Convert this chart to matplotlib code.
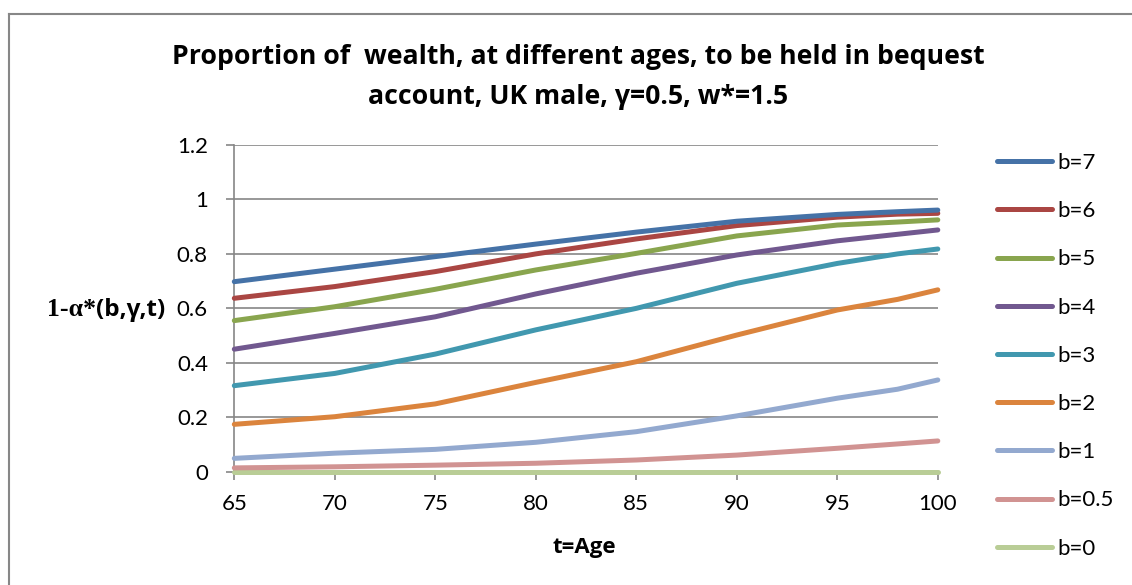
import matplotlib
matplotlib.use("Agg")
import matplotlib.pyplot as plt
from matplotlib.lines import Line2D

# ages (t) and proportion 1-alpha*(b,gamma,t)
ages = [65, 70, 75, 80, 85, 90, 95, 98, 100]
b7 = [0.698, 0.744, 0.790, 0.836, 0.880, 0.920, 0.945, 0.955, 0.961]
b6 = [0.637, 0.680, 0.735, 0.800, 0.855, 0.904, 0.935, 0.946, 0.949]
b5 = [0.555, 0.606, 0.670, 0.741, 0.802, 0.866, 0.906, 0.917, 0.925]
b4 = [0.450, 0.508, 0.569, 0.653, 0.729, 0.796, 0.848, 0.872, 0.888]
b3 = [0.316, 0.361, 0.432, 0.521, 0.600, 0.692, 0.765, 0.800, 0.818]
b2 = [0.174, 0.202, 0.249, 0.328, 0.404, 0.502, 0.594, 0.633, 0.668]
b1 = [0.049, 0.068, 0.082, 0.108, 0.147, 0.205, 0.270, 0.303, 0.337]
b05 = [0.014, 0.018, 0.024, 0.031, 0.043, 0.061, 0.086, 0.102, 0.113]
b0 = [0.0, 0.0, 0.0, 0.0, 0.0, 0.0, 0.0, 0.0, 0.0]

labels = ["b=7", "b=6", "b=5", "b=4", "b=3", "b=2", "b=1", "b=0.5", "b=0"]
series = [b7, b6, b5, b4, b3, b2, b1, b05, b0]
colors = ["#4572A7", "#AA4643", "#89A54E", "#71588F", "#4198AF",
          "#DB843D", "#93A9CF", "#D19392", "#B9CD96"]

plt.rcParams["font.family"] = ["Lato", "DejaVu Sans"]

W, H = 1132, 585
fig = plt.figure(figsize=(W / 100, H / 100), dpi=100)
ax = fig.add_axes([234.3 / W, 1 - 471.7 / H, (937.8 - 234.3) / W, (471.7 - 145) / H])

# outer chart frame (only left and top edges visible)
fig.add_artist(Line2D([9 / W, 9 / W], [0, 1 - 13.5 / H], transform=fig.transFigure,
                      color="#878787", lw=1.5))
fig.add_artist(Line2D([9 / W, 1], [1 - 13.5 / H, 1 - 13.5 / H], transform=fig.transFigure,
                      color="#878787", lw=1.5))

# draw bottom series first so top ones overlay
for lab, vals, col in reversed(list(zip(labels, series, colors))):
    ax.plot(ages, vals, color=col, lw=3.6, solid_capstyle="round", label=lab,
            zorder=3, clip_on=False)

ax.set_xlim(65, 100)
ax.set_ylim(0, 1.2)
ax.set_xticks([65, 70, 75, 80, 85, 90, 95, 100])
ax.set_yticks([0, 0.2, 0.4, 0.6, 0.8, 1.0, 1.2])
ax.set_yticklabels([f"{v:g}" for v in ax.get_yticks()])
ax.yaxis.grid(True, color="#868686", lw=1.2)
ax.set_axisbelow(True)
for s in ["top", "right"]:
    ax.spines[s].set_visible(False)
for s in ["left", "bottom"]:
    ax.spines[s].set_color("#868686")
    ax.spines[s].set_linewidth(1.2)
ax.tick_params(axis="both", colors="#868686", labelcolor="black", labelsize=16,
               length=6, width=1.2)
ax.tick_params(axis="y", pad=13)
ax.tick_params(axis="x", pad=10)

fig.text(578 / W, 1 - 77 / H,
         "Proportion of  wealth, at different ages, to be held in bequest\naccount, UK male, \u03b3=0.5, w*=1.5",
         ha="center", va="center", fontsize=19.2, fontweight="bold",
         family="Open Sans", linespacing=1.7)

fig.text(584 / W, 1 - 548 / H, "t=Age", ha="center", va="center",
         fontsize=16, fontweight="bold", family="Open Sans")

# y label: serif part + sans part
t1 = fig.text(47 / W, 1 - 310 / H, "1-\u03b1*", ha="left", va="center",
              fontsize=18.5, fontweight="bold", family="Liberation Serif")
fig.canvas.draw()
bb = t1.get_window_extent()
fig.text(bb.x1 / W, 1 - 310 / H, "(b,\u03b3,t)", ha="left", va="center",
         fontsize=17.5, fontweight="bold", family="Open Sans")

handles, labs = ax.get_legend_handles_labels()
leg = fig.legend(handles[::-1], labs[::-1], loc="upper left",
                 bbox_to_anchor=(988 / W, 1 - 144 / H), frameon=False,
                 fontsize=16, handlelength=2.5, handletextpad=0.2,
                 labelspacing=1.27, borderaxespad=0)

fig.savefig("out.png", dpi=100, facecolor="white")
